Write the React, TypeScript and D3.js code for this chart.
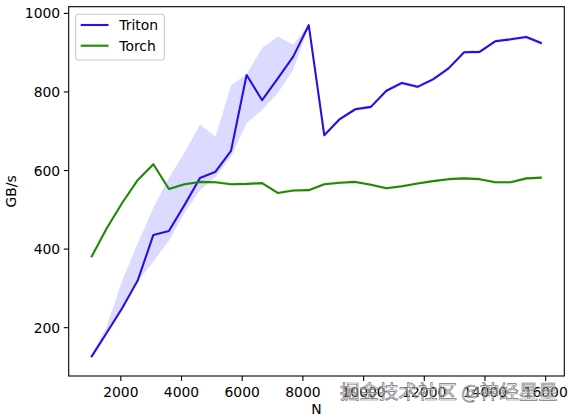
import React from "react";
import * as d3 from "d3";

const N = [1024, 1536, 2048, 2560, 3072, 3584, 4096, 4608, 5120, 5632, 6144, 6656, 7168, 7680, 8192, 8704, 9216, 9728, 10240, 10752, 11264, 11776, 12288, 12800, 13312, 13824, 14336, 14848, 15360, 15872];

const triton = [125, 187, 250, 321, 436, 446, 512, 581, 597, 650, 843, 779, 834, 890, 970, 690, 731, 756, 762, 803, 823, 813, 832, 860, 901, 902, 929, 934, 940, 924];
const tritonLo = [122, 184, 245, 318, 368, 421, 492, 550, 584, 635, 721, 754, 797, 856, 966, 686, 727, 752, 758, 799, 819, 809, 828, 856, 897, 898, 925, 930, 936, 918];
const tritonHi = [128, 203, 321, 415, 505, 581, 645, 717, 686, 817, 845, 912, 941, 921, 972, 693, 735, 760, 766, 807, 827, 817, 836, 864, 905, 906, 933, 938, 944, 928];

const torch = [379, 453, 518, 576, 616, 553, 565, 571, 570, 565, 566, 568, 543, 549, 550, 565, 569, 571, 564, 555, 560, 567, 573, 578, 580, 578, 570, 570, 580, 582];
const torchLo = [376, 450, 515, 573, 612, 550, 562, 568, 567, 562, 563, 565, 540, 546, 547, 562, 566, 568, 561, 552, 557, 564, 570, 575, 577, 575, 567, 567, 577, 579];
const torchHi = [382, 456, 521, 579, 620, 556, 568, 574, 573, 568, 569, 571, 546, 552, 553, 568, 572, 574, 567, 558, 563, 570, 576, 581, 583, 581, 573, 573, 583, 585];

const xTicks = [2000, 4000, 6000, 8000, 10000, 12000, 14000, 16000];
const yTicks = [200, 400, 600, 800, 1000];

const seriesNames = ["Triton", "Torch"];
const seriesColors = ["#2a0fe0", "#1f8a00"];
const bandColors = ["rgba(40,40,255,0.17)", "rgba(20,140,0,0.15)"];

const W = 574;
const H = 415;
const L = 68.7, R = 564.3, T = 6.7, B = 376;
const FONT = "DejaVu Sans, sans-serif";

export default function App() {
  const x = d3.scaleLinear().domain([282, 16614]).range([L, R]);
  const y = d3.scaleLinear().domain([77, 1017]).range([B, T]);

  const line = d3.line<number>().x((_, i) => x(N[i])).y((d) => y(d));
  const area = (lo: number[], hi: number[]) =>
    d3.area<number>().x((_, i) => x(N[i])).y0((_, i) => y(lo[i])).y1((_, i) => y(hi[i]))(lo) || "";

  const series = [
    { v: triton, lo: tritonLo, hi: tritonHi },
    { v: torch, lo: torchLo, hi: torchHi },
  ];

  return (
    <svg width={W} height={H} style={{ position: "absolute", left: 0, top: 0, background: "#fff" }} fontFamily={FONT}>
      <rect x={0} y={0} width={W} height={H} fill="#fff" />
      <defs>
        <clipPath id="clip">
          <rect x={L} y={T} width={R - L} height={B - T} />
        </clipPath>
      </defs>
      <g clipPath="url(#clip)">
        {series.map((s, k) => (
          <path key={"b" + k} d={area(s.lo, s.hi)} fill={bandColors[k]} stroke="none" />
        ))}
        {series.map((s, k) => (
          <path key={"l" + k} d={line(s.v) || ""} fill="none" stroke={seriesColors[k]} strokeWidth={2.1} strokeLinejoin="round" strokeLinecap="butt" />
        ))}
      </g>
      <rect x={L} y={T} width={R - L} height={B - T} fill="none" stroke="#000" strokeWidth={1.1} />
      {xTicks.map((t) => (
        <g key={"x" + t}>
          <line x1={x(t)} x2={x(t)} y1={B} y2={B + 4.9} stroke="#000" strokeWidth={1.1} />
          <text x={x(t)} y={B + 20.5} fontSize={13.9} textAnchor="middle" fill="#000">{t}</text>
        </g>
      ))}
      {yTicks.map((t) => (
        <g key={"y" + t}>
          <line x1={L - 4.9} x2={L} y1={y(t)} y2={y(t)} stroke="#000" strokeWidth={1.1} />
          <text x={L - 8.5} y={y(t) + 5} fontSize={13.9} textAnchor="end" fill="#000">{t}</text>
        </g>
      ))}
      <text x={(L + R) / 2} y={414} fontSize={13.9} textAnchor="middle" fill="#000">N</text>
      <text transform={`translate(16,${(T + B) / 2}) rotate(-90)`} fontSize={13.9} textAnchor="middle" fill="#000">GB/s</text>
      <g>
        <rect x={75.7} y={14.3} width={88.6} height={45.7} rx={3} fill="rgba(255,255,255,0.8)" stroke="#ccc" strokeWidth={1.1} />
        {seriesNames.map((name, k) => (
          <g key={name}>
            <line x1={80.7} x2={108.5} y1={25 + k * 20.7} y2={25 + k * 20.7} stroke={seriesColors[k]} strokeWidth={2.1} />
            <text x={119.3} y={25 + k * 20.7 + 5} fontSize={13.9} fill="#000">{name}</text>
          </g>
        ))}
      </g>
      <text x={340} y={399} fontSize={19.5} fill="rgba(255,255,255,0.5)" stroke="#777" strokeWidth={0.7} fontFamily="Noto Sans CJK SC, sans-serif">掘金技术社区 @神经星星</text>
    </svg>
  );
}
